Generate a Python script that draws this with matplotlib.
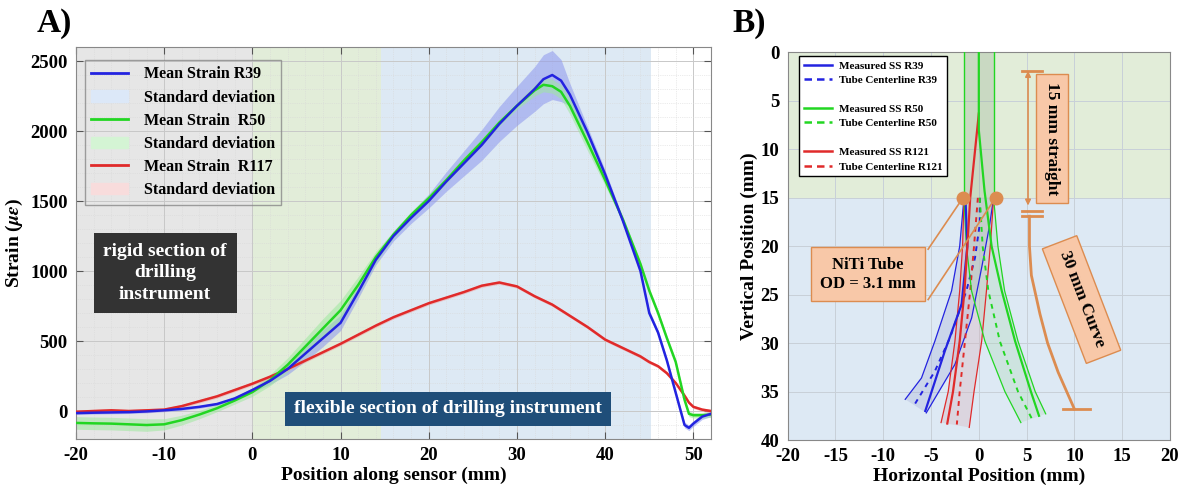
import matplotlib
matplotlib.use("Agg")
import matplotlib.pyplot as plt
from matplotlib.lines import Line2D
from matplotlib.patches import Patch
import numpy as np

plt.rcParams['font.family'] = ['Liberation Serif', 'DejaVu Serif']
plt.rcParams['font.weight'] = 'bold'
plt.rcParams['axes.labelweight'] = 'bold'
plt.rcParams['axes.unicode_minus'] = False
plt.rcParams['mathtext.fontset'] = 'stix'

# ---------------- panel A data: strain along the sensor ----------------
pos = [-20, -18, -16, -14, -12, -10, -8, -6, -4, -2, 0, 2, 4, 6, 8, 10, 12, 14,
       16, 18, 20, 22, 24, 26, 28, 30, 32, 33, 34, 35, 36, 38, 40, 42, 44, 45,
       46, 47, 48, 49, 49.5, 50, 51, 52]

strain_r39 = [-15, -12, -10, -8, -3, 5, 15, 30, 50, 90, 150, 215, 300, 410, 520,
              630, 850, 1080, 1250, 1380, 1500, 1640, 1770, 1900, 2050, 2180,
              2300, 2370, 2400, 2360, 2260, 1990, 1690, 1360, 1000, 700, 560,
              360, 130, -100, -120, -90, -40, -20]
std_r39 = [10, 10, 10, 10, 10, 10, 10, 10, 10, 10, 15, 25, 40, 55, 60, 55, 45,
           35, 35, 40, 50, 70, 90, 110, 125, 140, 160, 175, 175, 150, 80, 40,
           30, 20, 20, 20, 20, 20, 20, 20, 20, 20, 20, 20]

strain_r50 = [-85, -88, -90, -95, -100, -95, -65, -25, 20, 75, 135, 220, 330,
              460, 590, 720, 900, 1100, 1260, 1400, 1520, 1650, 1790, 1920,
              2060, 2180, 2290, 2330, 2320, 2280, 2180, 1920, 1650, 1370, 1050,
              860, 700, 520, 350, 80, -20, -30, -30, -25]
std_r50 = [45, 45, 45, 45, 45, 40, 35, 30, 25, 25, 30, 40, 50, 60, 70, 70, 60,
           40, 25, 25, 25, 25, 25, 25, 25, 25, 40, 50, 50, 50, 60, 60, 40, 20,
           20, 20, 20, 20, 20, 20, 20, 20, 20, 20]

strain_r117 = [-5, 0, 5, 0, 5, 10, 35, 70, 105, 150, 195, 245, 300, 360, 420,
               480, 545, 610, 670, 720, 770, 810, 850, 895, 918, 890, 820, 790,
               760, 720, 680, 600, 510, 450, 390, 350, 320, 270, 200, 110, 60,
               30, 10, 0]
std_r117 = [12] * len(pos)

# section limits along the sensor (mm)
rigid_end = 0
straight_end = 14.6
grating_end = 45.2

# ---------------- panel B data: tube shapes ----------------
tube_od = 3.1
r = tube_od / 2

# R39
r39_wall_l_y = [15, 20, 24.6, 29.8, 33.6, 35.8]
r39_wall_l_x = [-r, -2.0, -2.85, -4.6, -6.0, -7.7]
r39_wall_r_y = [15, 18, 22.2, 27.4, 32.2, 37.2]
r39_wall_r_x = [r, 1.1, 0.3, -0.75, -2.5, -5.5]
r39_meas_y = [15, 20, 26, 30.8, 37.0]
r39_meas_x = [-1.4, -1.2, -1.8, -3.55, -5.6]
r39_cl_y = [15, 17.7, 21.2, 24.6, 29.4, 32.9, 36.3]
r39_cl_x = [0.1, 0.1, -0.4, -1.3, -3.0, -4.6, -6.7]

# R50
r50_wall_l_y = [15, 20, 24.6, 29.8, 35, 38.2]
r50_wall_l_x = [-r, -1.3, -0.76, 0.64, 2.73, 4.4]
r50_wall_r_y = [15, 20, 24.6, 29.8, 35, 37.3]
r50_wall_r_x = [r, 2.0, 2.7, 4.1, 5.9, 7.0]
r50_meas_y = [0, 8, 14.3, 20, 24.6, 29.8, 35, 37.5]
r50_meas_x = [0, 0, 0.6, 1.34, 2.4, 3.8, 5.45, 6.3]
r50_cl_y = [15, 20, 24.6, 29.8, 35, 37.8]
r50_cl_x = [0.1, 0.4, 1.0, 2.2, 4.1, 5.55]

# R121
r121_wall_l_y = [15, 20, 24.6, 29.8, 35, 38.2]
r121_wall_l_x = [-r, -1.7, -2.0, -2.5, -3.2, -3.95]
r121_wall_r_y = [15, 20, 24.6, 29.8, 35, 38.7]
r121_wall_r_x = [r, 1.2, 0.8, 0.3, -0.5, -1.0]
r121_meas_y = [6.3, 15, 20, 24.6, 29.8, 35, 38.3]
r121_meas_x = [0, -0.9, -1.2, -1.5, -2.0, -2.7, -3.3]
r121_cl_y = [15, 20, 24.6, 29.8, 35, 38.4]
r121_cl_x = [-0.1, -0.5, -0.9, -1.45, -2.0, -2.3]

# 30 mm curve bracket
bracket_y = [16.9, 20, 23, 27, 30, 33, 36.8]
bracket_x = [5.3, 5.3, 5.5, 6.4, 7.2, 8.3, 10.0]

blue = '#2323e0'
green = '#22d622'
red = '#e02a2a'
orange = '#dc8c50'
box_fill = '#f8c8a8'

fig = plt.figure(figsize=(11.85, 4.99), dpi=100)
ax1 = fig.add_axes([0.0641, 0.1202, 0.5359, 0.7856])
ax2 = fig.add_axes([0.6647, 0.1182, 0.3226, 0.7766])

# ---------------- panel A ----------------
ax1.axvspan(-20, rigid_end, color='#e6e6e6', zorder=0, lw=0)
ax1.axvspan(rigid_end, straight_end, color='#e2edd9', zorder=0, lw=0)
ax1.axvspan(straight_end, grating_end, color='#dde9f4', zorder=0, lw=0)

p = np.array(pos)
for m, s, fc in [(strain_r39, std_r39, '#8c96ee'),
                 (strain_r50, std_r50, '#9ee89e'),
                 (strain_r117, std_r117, '#f0a0a0')]:
    m = np.array(m)
    s = np.array(s)
    ax1.fill_between(p, m - s, m + s, color=fc, alpha=0.55, lw=0, zorder=2)
for m, c in [(strain_r117, red), (strain_r50, green), (strain_r39, blue)]:
    ax1.plot(pos, m, color=c, lw=1.8, zorder=3)

ax1.set_xlim(-20, 52)
ax1.set_ylim(-200, 2600)
ax1.set_xticks([-20, -10, 0, 10, 20, 30, 40, 50])
ax1.set_yticks([0, 500, 1000, 1500, 2000, 2500])
ax1.set_xticks(np.arange(-20, 53, 2), minor=True)
ax1.set_yticks(np.arange(-200, 2601, 100), minor=True)
ax1.grid(True, which='major', color='#c8c8c8', lw=0.7, zorder=1)
ax1.grid(True, which='minor', color='#d8d8d8', lw=0.5, ls=':', zorder=1)
ax1.set_axisbelow(True)
ax1.tick_params(direction='in', top=True, right=True, labelsize=13.5,
                length=5, color='#555555', pad=6)
ax1.tick_params(which='minor', length=0)
for lab in ax1.get_xticklabels() + ax1.get_yticklabels():
    lab.set_fontweight('bold')
for sp in ax1.spines.values():
    sp.set_color('#888888')
ax1.set_xlabel('Position along sensor (mm)', fontsize=14, labelpad=2)
ax1.set_ylabel(r'Strain ($\mu\epsilon$)', fontsize=14, labelpad=4)

handles = [Line2D([], [], color=blue, lw=2), Patch(color='#dce8f8'),
           Line2D([], [], color=green, lw=2), Patch(color='#d4f4d4'),
           Line2D([], [], color=red, lw=2), Patch(color='#f8dcdc')]
labels = ['Mean Strain R39', 'Standard deviation', 'Mean Strain  R50',
          'Standard deviation', 'Mean Strain  R117', 'Standard deviation']
leg = ax1.legend(handles, labels, loc='upper left', bbox_to_anchor=(0.014, 0.967),
                 borderaxespad=0, fontsize=11.5, frameon=True, fancybox=False,
                 handlelength=2.3, handletextpad=1.0, labelspacing=0.45)
leg.get_frame().set_facecolor('none')
leg.get_frame().set_edgecolor('#888888')

ax1.text(-9.9, 986, 'rigid section of\ndrilling\ninstrument', color='white',
         fontsize=14, ha='center', va='center', linespacing=1.35, zorder=5,
         bbox=dict(boxstyle='square,pad=0.5', fc='#333333', ec='none'))
ax1.text(22.2, 15, 'flexible section of drilling instrument', color='white',
         fontsize=14, ha='center', va='center', zorder=5,
         bbox=dict(boxstyle='square,pad=0.45', fc='#1f4e79', ec='none'))

# ---------------- panel B ----------------
ax2.axhspan(0, 15, color='#e2edd9', zorder=0, lw=0)
ax2.axhspan(15, 40, color='#dde9f4', zorder=0, lw=0)
ax2.fill_betweenx([0, 15], -r, r, color='#7fa07f', alpha=0.25, lw=0, zorder=1)

tubes = [
    (r39_wall_l_x, r39_wall_l_y, r39_wall_r_x, r39_wall_r_y,
     r39_meas_x, r39_meas_y, r39_cl_x, r39_cl_y, blue, '#a8b0d8'),
    (r121_wall_l_x, r121_wall_l_y, r121_wall_r_x, r121_wall_r_y,
     r121_meas_x, r121_meas_y, r121_cl_x, r121_cl_y, red, '#d8b0b8'),
    (r50_wall_l_x, r50_wall_l_y, r50_wall_r_x, r50_wall_r_y,
     r50_meas_x, r50_meas_y, r50_cl_x, r50_cl_y, green, '#b0d8b8'),
]
for wlx, wly, wrx, wry, mx, my, cx, cy, c, fc in tubes:
    ax2.fill(wlx + wrx[::-1], wly + wry[::-1], color=fc, alpha=0.35, lw=0, zorder=1)
    ax2.plot(wlx, wly, color=c, lw=0.9, zorder=2)
    ax2.plot(wrx, wry, color=c, lw=0.9, zorder=2)
    ax2.plot(cx, cy, color=c, lw=1.4, ls=(0, (2.5, 2.5)), zorder=2)
    ax2.plot(mx, my, color=c, lw=1.6, zorder=3)

# straight section walls
for xw in (-r, r):
    ax2.plot([xw, xw], [0, 15], color=green, lw=1.0, zorder=3)

ax2.set_xlim(-20, 20)
ax2.set_ylim(40, 0)
ax2.set_xticks(np.arange(-20, 21, 5))
ax2.set_yticks(np.arange(0, 41, 5))
ax2.grid(True, color='#c8d0d8', lw=0.7, zorder=1)
ax2.set_axisbelow(True)
ax2.tick_params(direction='in', top=True, right=True, labelsize=13.5,
                length=0, pad=6)
for lab in ax2.get_xticklabels() + ax2.get_yticklabels():
    lab.set_fontweight('bold')
for sp in ax2.spines.values():
    sp.set_color('#888888')
ax2.set_xlabel('Horizontal Position (mm)', fontsize=14, labelpad=2)
ax2.set_ylabel('Vertical Position (mm)', fontsize=14, labelpad=2)

bl = Line2D([], [], color='none')
handles_b = [Line2D([], [], color=blue, lw=1.8),
             Line2D([], [], color=blue, lw=1.8, ls=(0, (3, 2))), bl,
             Line2D([], [], color=green, lw=1.8),
             Line2D([], [], color=green, lw=1.8, ls=(0, (3, 2))), bl,
             Line2D([], [], color=red, lw=1.8),
             Line2D([], [], color=red, lw=1.8, ls=(0, (3, 2)))]
labels_b = ['Measured SS R39', 'Tube Centerline R39', ' ',
            'Measured SS R50', 'Tube Centerline R50', ' ',
            'Measured SS R121', 'Tube Centerline R121']
leg2 = ax2.legend(handles_b, labels_b, loc='upper left', bbox_to_anchor=(0.03, 0.99),
                  borderaxespad=0, fontsize=8, frameon=True, fancybox=False,
                  handlelength=2.6, handletextpad=0.6, labelspacing=0.42,
                  framealpha=1)
leg2.get_frame().set_edgecolor('black')
leg2.get_frame().set_linewidth(1.0)

# 15 mm straight dimension
ax2.plot([4.5, 6.6], [1.86, 1.86], color=orange, lw=2, zorder=4)
ax2.annotate('', xy=(5.15, 1.9), xytext=(5.15, 15.8),
             arrowprops=dict(arrowstyle='<|-|>', color=orange, lw=1.2,
                             mutation_scale=8, shrinkA=0, shrinkB=0), zorder=4)
ax2.plot([4.5, 6.6], [16.4, 16.4], color=orange, lw=2, zorder=4)
ax2.plot([4.5, 6.6], [16.9, 16.9], color=orange, lw=2, zorder=4)
ax2.text(7.65, 8.9, '15 mm straight', rotation=270, fontsize=12.5,
         ha='center', va='center', zorder=5,
         bbox=dict(boxstyle='square,pad=0.45', fc=box_fill, ec=orange, lw=1))

# 30 mm curve bracket
ax2.plot(bracket_x, bracket_y, color=orange, lw=2, zorder=4)
ax2.plot([8.8, 11.6], [36.8, 36.8], color=orange, lw=2, zorder=4)
ax2.text(10.75, 25.5, '30 mm Curve', rotation=-69, fontsize=12.5,
         ha='center', va='center', rotation_mode='anchor', zorder=5,
         bbox=dict(boxstyle='square,pad=0.6', fc=box_fill, ec=orange, lw=1))

# tube callout
ax2.plot([-5.3, -1.66], [20.3, 15], color=orange, lw=1.2, zorder=4)
ax2.plot([-5.3, 1.75], [25.5, 15], color=orange, lw=1.2, zorder=4)
ax2.plot([-1.66, 1.75], [15, 15], ls='none', marker='o', ms=9,
         color=orange, zorder=5)
ax2.text(-11.6, 22.9, 'NiTi Tube\nOD = 3.1 mm', fontsize=12, ha='center',
         va='center', linespacing=1.3, zorder=5,
         bbox=dict(boxstyle='square,pad=0.55', fc=box_fill, ec=orange, lw=1))

fig.text(0.031, 1 - 32 / 499, 'A)', fontsize=24, va='baseline')
fig.text(0.618, 1 - 32 / 499, 'B)', fontsize=24, va='baseline')

fig.savefig('out.png', dpi=100)
